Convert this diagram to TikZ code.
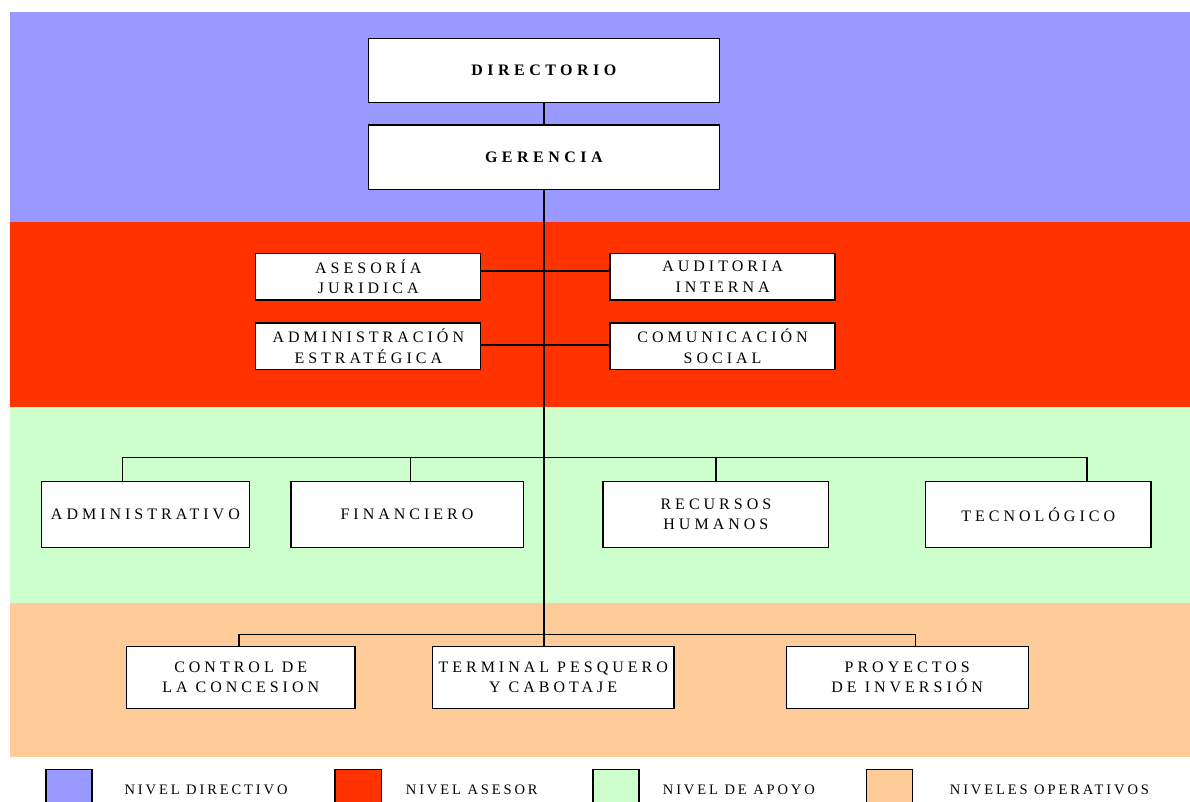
\documentclass[tikz,border=0pt]{standalone}
\usepackage{fontspec}
\setmainfont{Liberation Serif}
\newfontfamily\boxfont[LetterSpace=25]{Liberation Serif}
\newfontfamily\boxboldfont[LetterSpace=28]{Liberation Serif Bold}
\newfontfamily\legfont[LetterSpace=20]{Liberation Serif}
\definecolor{bandblue}{HTML}{9999FF}
\definecolor{bandred}{HTML}{FF3300}
\definecolor{bandgreen}{HTML}{CCFFCC}
\definecolor{bandorange}{HTML}{FFCC99}
\pgfdeclarelayer{bands}
\pgfdeclarelayer{lines}
\pgfsetlayers{bands,lines,main}
\tikzset{
  orgbox/.style={draw=black, line width=1.3pt, fill=white, inner sep=0pt, align=center,
    font=\boxfont\fontsize{16}{20.5}\selectfont},
  topbox/.style={orgbox, minimum width=351pt, minimum height=64.5pt,
    font=\boxboldfont\fontsize{16}{20}\selectfont},
  asebox/.style={orgbox, minimum width=225pt, minimum height=46.5pt},
  apobox/.style={orgbox, minimum height=65.6pt},
  opebox/.style={orgbox, minimum height=61.6pt},
  trunk/.style={line width=2pt, line cap=rect},
  branch/.style={line width=1.5pt},
  legsq/.style={draw=black, line width=1.5pt},
  legtext/.style={anchor=base west, inner sep=0pt, font=\legfont\fontsize{14.5}{17}\selectfont}
}
\begin{document}
\begin{tikzpicture}[x=1pt,y=-1pt]
\useasboundingbox (0,0) rectangle (1190,801);
\begin{pgfonlayer}{bands}
\fill[white] (0,0) rectangle (1190,801);
% level bands
\fill[bandblue] (10,12) rectangle (1190,222);
\fill[bandred] (10,222) rectangle (1190,407);
\fill[bandgreen] (10,407) rectangle (1190,603);
\fill[bandorange] (10,603) rectangle (1190,757);
\end{pgfonlayer}

% boxes
\node[topbox] (dir) at (543.8,70.5) {DIRECTORIO};
\node[topbox] (ger) at (543.8,157.2) {GERENCIA};

\node[asebox] (ase) at (368.3,276.7) {ASESORÍA\\JURIDICA};
\node[asebox] (aud) at (722.6,276.7) {AUDITORIA\\INTERNA};
\node[asebox] (adm) at (368.3,346.3) {ADMINISTRACIÓN\\ESTRATÉGICA};
\node[asebox] (com) at (722.6,346.3) {COMUNICACIÓN\\SOCIAL};

\node[apobox, minimum width=208.2pt] (b1) at (145.4,514.5) {ADMINISTRATIVO};
\node[apobox, minimum width=232.3pt] (b2) at (407.0,514.5) {FINANCIERO};
\node[apobox, minimum width=225.7pt] (b3) at (715.9,514.5) {RECURSOS\\HUMANOS};
\node[apobox, minimum width=225.6pt] (b4) at (1038.2,514.5) {TECNOLÓGICO};

\node[opebox, minimum width=228.8pt] (o1) at (240.7,677.5) {CONTROL DE\\LA CONCESION};
\node[opebox, minimum width=241.5pt] (o2) at (553.2,677.5) {TERMINAL PESQUERO\\Y CABOTAJE};
\node[opebox, minimum width=241.9pt] (o3) at (907.2,677.5) {PROYECTOS\\DE INVERSIÓN};

\begin{pgfonlayer}{lines}
% trunk
\draw[trunk] (dir.south) -- (dir.south |- o2.north);

% advisory branches
\draw[branch] ([yshift=5.7pt]ase.east) -- ([yshift=5.7pt]aud.west);
\draw[branch] ([yshift=1.3pt]adm.east) -- ([yshift=1.3pt]com.west);

% support level bus
\coordinate (g1) at (122.5,457.3);
\coordinate (g2) at (410.6,457.3);
\coordinate (g3) at (715.9,457.3);
\coordinate (g4) at (1087.2,457.3);
\draw[branch] (g1) -- (g4);
\draw[branch] (g1) -- (g1 |- b1.north);
\draw[branch] (g2) -- (g2 |- b2.north);
\draw[branch] (g3) -- (g3 |- b3.north);
\draw[branch] (g4) -- (g4 |- b4.north);

% operative level bus
\coordinate (p1) at (239.2,634.3);
\coordinate (p3) at (915.3,634.3);
\draw[branch] (p1) -- (p3);
\draw[branch] (p1) -- (p1 |- o1.north);
\draw[branch] (p3) -- (p3 |- o3.north);
\end{pgfonlayer}

% legend
\draw[legsq, fill=bandblue] (45.9,769.3) rectangle (91.8,806);
\node[legtext] (l1) at (124.4,794) {NIVEL DIRECTIVO};
\draw[legsq, fill=bandred] (334.9,769.3) rectangle (381.5,806);
\node[legtext] (l2) at (405.7,794) {NIVEL ASESOR};
\draw[legsq, fill=bandgreen] (593,769.3) rectangle (639,806);
\node[legtext] (l3) at (662.7,794) {NIVEL DE APOYO};
\draw[legsq, fill=bandorange] (866.3,769.3) rectangle (912.6,806);
\node[legtext] (l4) at (949.7,794) {NIVELES OPERATIVOS};
\end{tikzpicture}
\end{document}
